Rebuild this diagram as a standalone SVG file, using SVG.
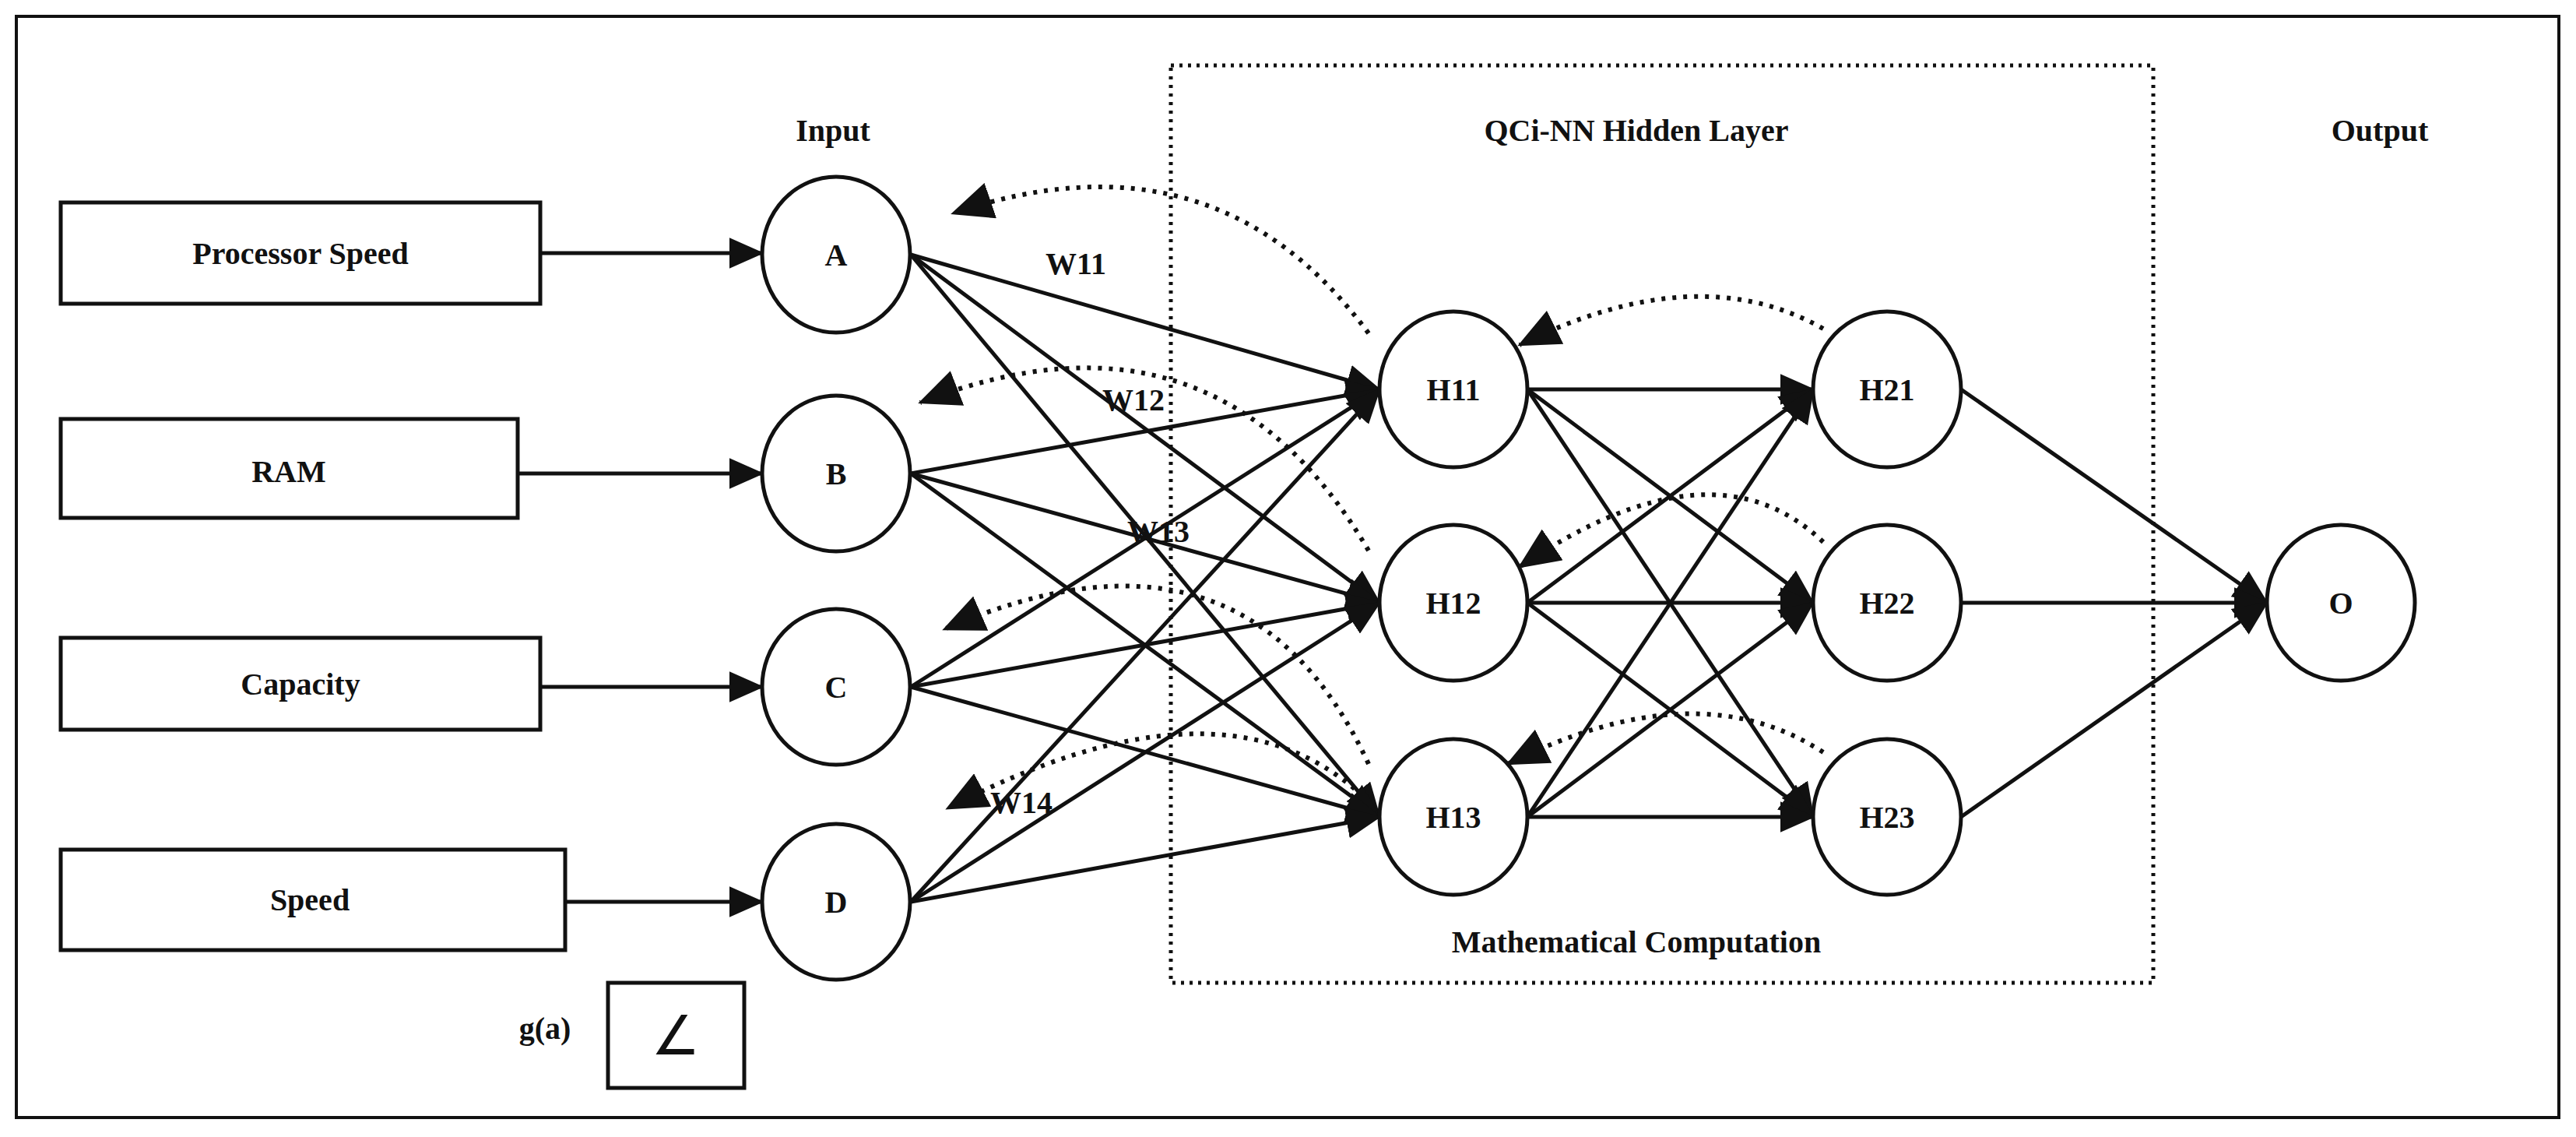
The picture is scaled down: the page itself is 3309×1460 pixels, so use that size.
<svg xmlns="http://www.w3.org/2000/svg" width="3309" height="1460" viewBox="0 0 3309 1460">
<style>
text{font-family:"Liberation Serif","Times New Roman",serif;font-weight:bold;fill:#111;text-anchor:middle;dominant-baseline:central}
.n{fill:#fff;stroke:#111;stroke-width:5}
.e{stroke:#111;stroke-width:5;fill:none;marker-end:url(#ah)}
.d{stroke:#111;stroke-width:6;fill:none;stroke-dasharray:5 9;marker-end:url(#ah)}
.t{font-size:40px}
</style>
<defs>
<marker id="ah" markerWidth="9" markerHeight="8" refX="8.5" refY="4" orient="auto" markerUnits="strokeWidth"><path d="M0,0L9,4L0,8z" fill="#111"/></marker>
</defs>
<rect x="0" y="0" width="3309" height="1460" fill="#fff"/>
<rect x="21" y="21" width="3266" height="1414" fill="none" stroke="#111" stroke-width="4"/>
<rect x="1504" y="84" width="1262" height="1178" fill="none" stroke="#111" stroke-width="5" stroke-dasharray="4 7"/>
<text class="t" x="1070" y="167">Input</text>
<text class="t" x="2102" y="167">QCi-NN Hidden Layer</text>
<text class="t" x="3057" y="167">Output</text>
<text class="t" x="2102" y="1209">Mathematical Computation</text>
<g id="connectors">
<path class="e" d="M694,325L979,325"/><path class="e" d="M665,608L979,608"/><path class="e" d="M694,882L979,882"/><path class="e" d="M726,1158L979,1158"/>
<path class="e" d="M1170,327L1772,500"/><path class="e" d="M1170,327L1772,774"/><path class="e" d="M1170,327L1772,1049"/>
<path class="e" d="M1170,608L1772,500"/><path class="e" d="M1170,608L1772,774"/><path class="e" d="M1170,608L1772,1049"/>
<path class="e" d="M1170,882L1772,500"/><path class="e" d="M1170,882L1772,774"/><path class="e" d="M1170,882L1772,1049"/>
<path class="e" d="M1170,1158L1772,500"/><path class="e" d="M1170,1158L1772,774"/><path class="e" d="M1170,1158L1772,1049"/>
<path class="e" d="M1962,500L2329,500"/><path class="e" d="M1962,500L2329,774"/><path class="e" d="M1962,500L2329,1049"/>
<path class="e" d="M1962,774L2329,500"/><path class="e" d="M1962,774L2329,774"/><path class="e" d="M1962,774L2329,1049"/>
<path class="e" d="M1962,1049L2329,500"/><path class="e" d="M1962,1049L2329,774"/><path class="e" d="M1962,1049L2329,1049"/>
<path class="e" d="M2519,500L2912,774"/><path class="e" d="M2519,774L2912,774"/><path class="e" d="M2519,1049L2912,774"/>
<path class="d" d="M1758,428Q1560,160 1224,274"/>
<path class="d" d="M1758,707Q1560,370 1182,517"/>
<path class="d" d="M1758,981Q1600,640 1213,808"/>
<path class="d" d="M1740,1013Q1560,860 1217,1038"/>
<path class="d" d="M2342,422Q2180,330 1952,443"/>
<path class="d" d="M2342,696Q2200,560 1952,728"/>
<path class="d" d="M2342,966Q2180,860 1937,981"/>
</g>
<g class="t">
<text x="1382" y="338" style="font-weight:bold">W11</text>
<text x="1456" y="513">W12</text>
<text x="1488" y="682">W13</text>
<text x="1312" y="1030">W14</text>
</g>
<g id="in1"><rect class="n" x="78" y="260" width="616" height="130"/><text class="t" x="386" y="325">Processor Speed</text></g>
<g id="in2"><rect class="n" x="78" y="538" width="587" height="127"/><text class="t" x="371" y="605">RAM</text></g>
<g id="in3"><rect class="n" x="78" y="819" width="616" height="118"/><text class="t" x="386" y="878">Capacity</text></g>
<g id="in4"><rect class="n" x="78" y="1091" width="648" height="129"/><text class="t" x="398" y="1155">Speed</text></g>
<g id="A"><ellipse class="n" cx="1074" cy="327" rx="95" ry="100"/><text class="t" x="1074" y="327">A</text></g>
<g id="B"><ellipse class="n" cx="1074" cy="608" rx="95" ry="100"/><text class="t" x="1074" y="608">B</text></g>
<g id="C"><ellipse class="n" cx="1074" cy="882" rx="95" ry="100"/><text class="t" x="1074" y="882">C</text></g>
<g id="D"><ellipse class="n" cx="1074" cy="1158" rx="95" ry="100"/><text class="t" x="1074" y="1158">D</text></g>
<g id="H11"><ellipse class="n" cx="1867" cy="500" rx="95" ry="100"/><text class="t" x="1867" y="500">H11</text></g>
<g id="H12"><ellipse class="n" cx="1867" cy="774" rx="95" ry="100"/><text class="t" x="1867" y="774">H12</text></g>
<g id="H13"><ellipse class="n" cx="1867" cy="1049" rx="95" ry="100"/><text class="t" x="1867" y="1049">H13</text></g>
<g id="H21"><ellipse class="n" cx="2424" cy="500" rx="95" ry="100"/><text class="t" x="2424" y="500">H21</text></g>
<g id="H22"><ellipse class="n" cx="2424" cy="774" rx="95" ry="100"/><text class="t" x="2424" y="774">H22</text></g>
<g id="H23"><ellipse class="n" cx="2424" cy="1049" rx="95" ry="100"/><text class="t" x="2424" y="1049">H23</text></g>
<g id="O"><ellipse class="n" cx="3007" cy="774" rx="95" ry="100"/><text class="t" x="3007" y="774">O</text></g>
<g id="g"><rect class="n" x="781" y="1262" width="175" height="135"/><text x="868" y="1330" style="font-size:70px;font-weight:normal;font-family:'DejaVu Sans',sans-serif">∠</text><text class="t" x="700" y="1320">g(a)</text></g>
</svg>
